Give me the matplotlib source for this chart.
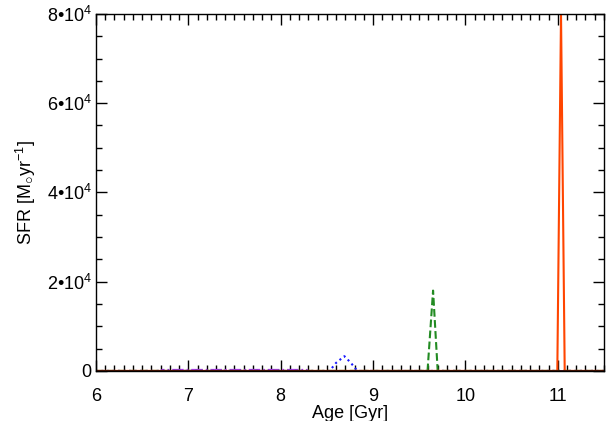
import matplotlib
matplotlib.use('Agg')
import matplotlib.pyplot as plt
import matplotlib.ticker
import numpy as np

plt.rcParams.update({"font.family": "sans-serif", "font.sans-serif": ["Liberation Sans"],
                     "mathtext.fontset": "custom", "mathtext.rm": "Liberation Sans",
                     "mathtext.it": "Liberation Sans:italic"})

# star formation histories (Age in Gyr, SFR in Msun/yr)
age_purple = [6.0, 6.70, 6.72, 8.28, 8.30, 11.5]
sfr_purple = [0, 0, 250, 250, 0, 0]

age_blue = [6.0, 8.53, 8.60, 8.69, 8.76, 8.83, 11.5]
sfr_blue = [0, 0, 1800, 3300, 1800, 0, 0]

age_green = [6.0, 9.59, 9.65, 9.70, 11.5]
sfr_green = [0, 0, 18000, 0, 0]

age_red = [6.0, 10.995, 11.035, 11.075, 11.5]
sfr_red = [0, 0, 80000, 0, 0]

fig = plt.figure(figsize=(6.07, 4.21), dpi=100)
ax = fig.add_axes([0.158, 0.119, 0.837, 0.848])

ax.plot(age_purple, sfr_purple, color='#9933ff', linestyle='-.', linewidth=1.3)
ax.plot(age_blue, sfr_blue, color='#1a1aff', linestyle=':', linewidth=1.5)
ax.plot(age_green, sfr_green, color='#228b22', linestyle='--', linewidth=1.5)
ax.plot(age_red, sfr_red, color='#ff4500', linestyle='-', linewidth=1.5)
# dark zero line along the bottom axis
ax.axhline(0, color='#3a1000', linewidth=2)

ax.set_xlim(6, 11.5)
ax.set_ylim(0, 80000)
ax.xaxis.set_major_locator(matplotlib.ticker.MultipleLocator(1))
ax.xaxis.set_minor_locator(matplotlib.ticker.MultipleLocator(0.1))
ax.yaxis.set_major_locator(matplotlib.ticker.MultipleLocator(20000))
ax.yaxis.set_minor_locator(matplotlib.ticker.MultipleLocator(5000))


def yfmt(v, pos):
    if v == 0:
        return '0'
    return '%d\u2022' % (v / 10000) + '10$^4$'


ax.yaxis.set_major_formatter(matplotlib.ticker.FuncFormatter(yfmt))
ax.tick_params(which='both', direction='in', top=True, right=True)
ax.tick_params(which='major', length=8, width=1)
ax.tick_params(which='minor', length=4, width=1)
ax.tick_params(axis='x', which='major', labelsize=13, pad=12)
ax.tick_params(axis='y', which='major', labelsize=13, pad=3)
for s in ax.spines.values():
    s.set_linewidth(1)

ax.set_xlabel('Age [Gyr]', fontsize=13, labelpad=0)
ax.set_ylabel(r'SFR [M$_{\bigcirc}$yr$^{-1}$]', fontsize=13, labelpad=6)

fig.savefig('out.png', dpi=100)
